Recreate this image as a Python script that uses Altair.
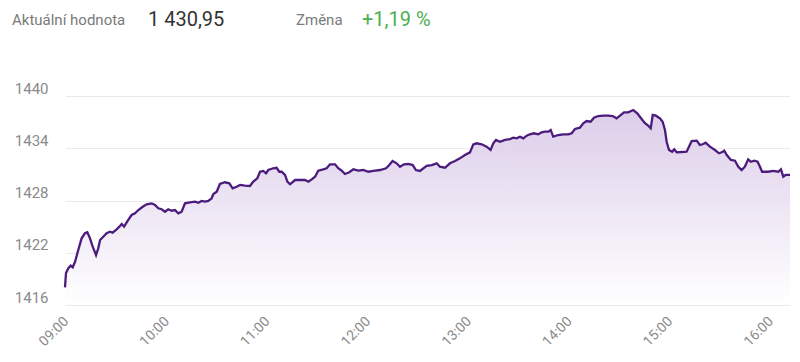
import altair as alt
import pandas as pd

# minutes after 09:00
minutes = [0, 0.6, 2.0, 3.4, 4.6, 6.0, 7.9, 9.9, 11.9, 13.3,
           14.9, 16.5, 18.5, 19.8, 20.9, 22.8, 24.8, 26.8, 28.4, 30.4,
           32.4, 33.8, 35.2, 37.7, 39.7, 41.7, 43.7, 46.3, 48.7, 51.7,
           53.6, 55.6, 57.6, 59.6, 61.5, 63.6, 65.5, 67.5, 69.5, 71.5,
           74.5, 77.5, 79.4, 81.4, 83.4, 85.4, 87.4, 88.4, 90.4, 92.3,
           95.3, 97.9, 99.9, 102.3, 104.3, 107.2, 110.2, 112.2, 114.6, 116.2,
           118.1, 119.8, 121.1, 124.1, 126.1, 127.7, 129.1, 131.1, 132.5, 134.1,
           137.1, 140.0, 143.0, 145.0, 147.0, 149.0, 150.9, 153.9, 155.9, 157.9,
           160.9, 162.8, 164.9, 166.8, 169.4, 171.8, 174.8, 177.7, 180.7, 183.7,
           187.7, 191.3, 193.2, 195.2, 197.6, 199.6, 202.0, 204.5, 207.2, 209.1,
           211.5, 215.5, 218.5, 221.5, 223.4, 226.4, 229.4, 232.4, 235.3, 238.3,
           241.3, 243.3, 245.3, 248.3, 251.2, 253.6, 255.2, 256.8, 259.2, 262.2,
           265.1, 267.1, 269.1, 271.1, 273.1, 275.1, 277.0, 279.4, 282.0, 284.0,
           286.0, 288.0, 289.4, 290.9, 293.9, 296.9, 299.9, 301.9, 303.9, 306.8,
           308.8, 310.8, 313.2, 315.2, 317.7, 320.7, 323.7, 326.3, 328.7, 330.7,
           333.1, 335.6, 338.6, 341.0, 343.0, 345.6, 347.5, 349.0, 350.2, 352.1,
           354.5, 356.1, 357.5, 358.5, 359.9, 361.8, 363.0, 364.5, 367.4, 370.4,
           371.8, 373.4, 376.4, 378.3, 380.3, 381.7, 384.3, 387.3, 389.7, 391.3,
           392.8, 394.3, 396.8, 399.2, 401.2, 403.2, 405.1, 407.1, 408.7, 410.7,
           412.7, 414.1, 415.4, 419.0, 422.0, 425.0, 426.6, 428.0, 429.4, 432.0]

values = [1418.03, 1419.68, 1420.22, 1420.52, 1420.33, 1420.97, 1422.32, 1423.66, 1424.24, 1424.35,
          1423.66, 1422.70, 1421.74, 1422.51, 1423.47, 1423.85, 1424.24, 1424.42, 1424.31, 1424.62,
          1425.00, 1425.31, 1425.00, 1425.77, 1426.34, 1426.54, 1426.91, 1427.29, 1427.57, 1427.68,
          1427.49, 1427.11, 1427.00, 1426.72, 1427.00, 1426.83, 1426.91, 1426.54, 1426.72, 1427.68,
          1427.80, 1427.87, 1427.75, 1427.95, 1427.87, 1427.95, 1428.26, 1428.75, 1429.02, 1429.90,
          1430.10, 1429.98, 1429.41, 1429.59, 1429.79, 1429.71, 1429.67, 1430.17, 1430.56, 1431.31,
          1431.40, 1431.13, 1431.51, 1431.71, 1431.77, 1431.31, 1431.31, 1430.94, 1430.17, 1429.87,
          1430.36, 1430.36, 1430.36, 1430.17, 1430.44, 1430.74, 1431.43, 1431.59, 1431.71, 1432.16,
          1432.16, 1431.71, 1431.43, 1431.05, 1431.25, 1431.59, 1431.43, 1431.51, 1431.31, 1431.40,
          1431.51, 1431.71, 1432.08, 1432.54, 1432.28, 1431.89, 1432.16, 1432.20, 1432.08, 1431.51,
          1431.40, 1432.00, 1432.08, 1432.28, 1431.89, 1431.77, 1432.28, 1432.54, 1432.85, 1433.23,
          1433.54, 1434.46, 1434.58, 1434.46, 1434.19, 1433.81, 1434.58, 1434.96, 1434.76, 1434.96,
          1435.07, 1435.22, 1435.15, 1435.34, 1435.15, 1435.45, 1435.61, 1435.73, 1435.61, 1435.84,
          1435.91, 1435.91, 1436.11, 1435.34, 1435.53, 1435.61, 1435.61, 1435.73, 1436.22, 1436.37,
          1436.88, 1437.14, 1437.06, 1437.52, 1437.71, 1437.75, 1437.75, 1437.71, 1437.45, 1437.75,
          1438.14, 1438.14, 1438.40, 1438.02, 1437.52, 1436.88, 1436.60, 1436.30, 1437.83, 1437.75,
          1437.45, 1437.06, 1436.11, 1434.76, 1433.81, 1433.61, 1433.89, 1433.54, 1433.58, 1433.61,
          1434.19, 1434.84, 1434.88, 1434.38, 1434.50, 1434.65, 1434.19, 1433.81, 1433.43, 1433.54,
          1433.73, 1433.23, 1432.66, 1432.58, 1431.89, 1431.51, 1431.89, 1432.74, 1432.46, 1432.58,
          1432.46, 1431.89, 1431.31, 1431.31, 1431.40, 1431.31, 1431.59, 1430.74, 1430.94, 1430.95]

y_grid = [1416, 1419, 1422, 1425, 1428, 1431, 1434, 1437, 1440, 1443]
x_ticks = [0, 60, 120, 180, 240, 300, 360, 420]
x_labels = ["09:00", "10:00", "11:00", "12:00", "13:00", "14:00", "15:00", "16:00"]

header_labels = ["Aktuální hodnota", "Změna"]
header_values = ["1 430,95", "+1,19 %"]

FONT = "Roboto"
df = pd.DataFrame({"m": minutes, "v": values})

label_expr = "[" + ",".join("'%s'" % s for s in x_labels) + "][round(datum.value/60)]"

x_enc = alt.X("m:Q",
              scale=alt.Scale(domain=[0, 432], nice=False, zero=False),
              axis=alt.Axis(values=x_ticks, labelExpr=label_expr, labelAngle=-45,
                            grid=False, domain=False, ticks=False, labelPadding=9,
                            labelOffset=-4,
                            labelFontSize=14, labelColor="#8a8a8a", labelFont=FONT,
                            title=None, labelOverlap=False))
y_enc = alt.Y("v:Q",
              scale=alt.Scale(domain=[1416, 1443], nice=False, zero=False),
              axis=alt.Axis(values=y_grid, format="d",
                            labelExpr="datum.value % 6 == 0 ? datum.label : ''",
                            grid=True, gridColor="#ebe9ef", gridWidth=1,
                            domain=False, ticks=False, labelPadding=17,
                            labelBaseline="bottom", labelFontSize=15,
                            labelColor="#8a8a8a", labelFont=FONT, title=None,
                            labelOverlap=False))

base = alt.Chart(df)

area = base.mark_area(
    color=alt.Gradient(
        gradient="linear",
        stops=[alt.GradientStop(color="#dccde9", offset=0),
               alt.GradientStop(color="#ffffff", offset=1)],
        x1=1, x2=1, y1=0, y2=1),
    opacity=1,
    clip=True,
).encode(x=x_enc, y=y_enc, y2=alt.datum(1416))

line = base.mark_line(color="#4b1c7d", strokeWidth=2.3, interpolate="linear").encode(
    x=alt.X("m:Q"), y=alt.Y("v:Q"))


def header(text, xpos, size, color):
    return alt.Chart(pd.DataFrame({"t": [text]})).mark_text(
        align="left", baseline="middle", font=FONT, fontSize=size, color=color
    ).encode(text="t:N", x=alt.value(xpos), y=alt.value(-50))


h1 = header(header_labels[0], -53, 15, "#7a7a7a")
h2 = header(header_values[0], 83, 20, "#333333")
h3 = header(header_labels[1], 231, 15, "#7a7a7a")
h4 = header(header_values[1], 297, 20, "#4caf50")

chart = alt.layer(area, line, h1, h2, h3, h4).properties(
    width=725, height=235,
    autosize=alt.AutoSizeParams(type="none"),
    padding={"left": 57, "top": 62, "right": 2, "bottom": 45},
).configure_view(stroke=None)

chart.save("out.html", embed_options={"renderer": "svg", "actions": False})
